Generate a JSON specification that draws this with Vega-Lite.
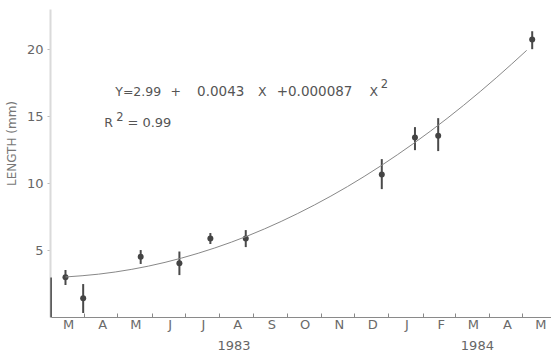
{
  "$schema": "https://vega.github.io/schema/vega-lite/v6.json",
  "width": 501,
  "height": 308,
  "autosize": "none",
  "padding": {"left": 50, "top": 9, "right": 0, "bottom": 41},
  "background": "white",
  "config": {"view": {"stroke": null}, "font": "DejaVu Sans"},
  "datasets": {
    "samples": [
      {"date": "1983-03-15", "length": 2.96, "lo": 2.39, "hi": 3.51},
      {"date": "1983-03-31", "length": 1.4, "lo": 0.3, "hi": 2.46},
      {"date": "1983-05-22", "length": 4.5, "lo": 3.96, "hi": 5.0},
      {"date": "1983-06-26", "length": 4.01, "lo": 3.13, "hi": 4.89},
      {"date": "1983-07-24", "length": 5.87, "lo": 5.45, "hi": 6.27},
      {"date": "1983-08-25", "length": 5.87, "lo": 5.22, "hi": 6.49},
      {"date": "1983-12-26", "length": 10.65, "lo": 9.55, "hi": 11.79},
      {"date": "1984-01-25", "length": 13.41, "lo": 12.46, "hi": 14.18},
      {"date": "1984-02-15", "length": 13.53, "lo": 12.39, "hi": 14.85},
      {"date": "1984-05-10", "length": 20.72, "lo": 20.0, "hi": 21.34}
    ],
    "fit": [
      {"date": "1983-03-15", "length": 2.99},
      {"date": "1983-04-14", "length": 3.2},
      {"date": "1983-05-14", "length": 3.56},
      {"date": "1983-06-13", "length": 4.08},
      {"date": "1983-07-13", "length": 4.76},
      {"date": "1983-08-12", "length": 5.59},
      {"date": "1983-09-11", "length": 6.58},
      {"date": "1983-10-11", "length": 7.73},
      {"date": "1983-11-10", "length": 9.03},
      {"date": "1983-12-10", "length": 10.49},
      {"date": "1984-01-09", "length": 12.11},
      {"date": "1984-02-08", "length": 13.88},
      {"date": "1984-03-09", "length": 15.81},
      {"date": "1984-04-08", "length": 17.9},
      {"date": "1984-05-05", "length": 19.91}
    ]
  },
  "resolve": {"axis": {"x": "independent"}},
  "layer": [
    {
      "data": {"name": "samples"},
      "mark": {"type": "rule", "color": "#4a4a4a", "strokeWidth": 2},
      "encoding": {
        "x": {
          "field": "date", "type": "temporal",
          "scale": {"type": "utc", "nice": false, "domain": [{"year": 1983, "month": 3, "date": 1, "utc": true}, {"year": 1984, "month": 5, "date": 27, "utc": true}]},
          "axis": {
            "orient": "bottom",
            "values": [
              {"year": 1983, "month": 3, "date": 1, "utc": true},
              {"year": 1983, "month": 4, "date": 1, "utc": true},
              {"year": 1983, "month": 5, "date": 1, "utc": true},
              {"year": 1983, "month": 6, "date": 1, "utc": true},
              {"year": 1983, "month": 7, "date": 1, "utc": true},
              {"year": 1983, "month": 8, "date": 1, "utc": true},
              {"year": 1983, "month": 9, "date": 1, "utc": true},
              {"year": 1983, "month": 10, "date": 1, "utc": true},
              {"year": 1983, "month": 11, "date": 1, "utc": true},
              {"year": 1983, "month": 12, "date": 1, "utc": true},
              {"year": 1984, "month": 1, "date": 1, "utc": true},
              {"year": 1984, "month": 2, "date": 1, "utc": true},
              {"year": 1984, "month": 3, "date": 1, "utc": true},
              {"year": 1984, "month": 4, "date": 1, "utc": true},
              {"year": 1984, "month": 5, "date": 1, "utc": true}
            ],
            "labelExpr": "slice(utcFormat(datum.value, '%b'), 0, 1)",
            "labelOffset": 18,
            "labelOverlap": false,
            "labelBound": false,
            "labelFlush": false,
            "labelAlign": "center",
            "labelBaseline": "top",
            "labelPadding": 5,
            "labelFontSize": 13,
            "labelColor": "#6a6a6a",
            "tickSize": -4,
            "tickColor": "#888",
            "domainColor": "#8a8a8a",
            "grid": false,
            "title": null
          }
        },
        "y": {
          "field": "lo", "type": "quantitative",
          "scale": {"domain": [0, 23], "nice": false},
          "title": "LENGTH (mm)",
          "axis": {
            "orient": "left",
            "values": [5, 10, 15, 20],
            "title": "LENGTH (mm)",
            "titleFontSize": 12,
            "titleFontWeight": "normal",
            "titleColor": "#777",
            "titleX": -39,
            "titleY": 134,
            "titleAngle": 270,
            "titleAlign": "center",
            "titleBaseline": "middle",
            "domainColor": "#dadada",
            "domainWidth": 2,
            "tickColor": "#bbb",
            "tickSize": 3,
            "labelColor": "#666",
            "labelFontSize": 13,
            "labelPadding": 4,
            "grid": false
          }
        },
        "y2": {"field": "hi"}
      }
    },
    {
      "data": {"name": "samples"},
      "mark": {"type": "point", "filled": true, "size": 36, "color": "#444", "opacity": 1},
      "encoding": {
        "x": {"field": "date", "type": "temporal", "axis": null},
        "y": {"field": "length", "type": "quantitative", "title": "LENGTH (mm)"}
      }
    },
    {
      "data": {"name": "fit"},
      "mark": {"type": "line", "color": "#888", "strokeWidth": 1, "interpolate": "monotone"},
      "encoding": {
        "x": {
          "field": "date", "type": "temporal",
          "axis": {
            "orient": "bottom",
            "values": [
              {"year": 1983, "month": 8, "date": 14, "utc": true},
              {"year": 1984, "month": 3, "date": 21, "utc": true}
            ],
            "labelExpr": "utcFormat(datum.value, '%Y')",
            "offset": 20,
            "domain": false,
            "ticks": false,
            "grid": false,
            "labelPadding": 2,
            "labelAlign": "center",
            "labelBaseline": "top",
            "labelFontSize": 13,
            "labelColor": "#666",
            "labelOverlap": false,
            "labelBound": false,
            "labelFlush": false,
            "title": null
          }
        },
        "y": {"field": "length", "type": "quantitative", "title": "LENGTH (mm)"}
      }
    },
    {
      "data": {"values": [{}]},
      "mark": {"type": "rule", "color": "#444", "strokeWidth": 1.5},
      "encoding": {
        "x": {"datum": {"year": 1983, "month": 3, "date": 2, "utc": true}, "type": "temporal", "axis": null},
        "y": {"datum": 0, "type": "quantitative"},
        "y2": {"datum": 2.95}
      }
    },
    {
      "data": {"values": [{}]},
      "mark": {"type": "text", "text": "Y=2.99", "align": "left", "baseline": "alphabetic", "fontSize": 12.5, "color": "#555"},
      "encoding": {
        "x": {"datum": {"year": 1983, "month": 4, "date": 29, "utc": true}, "type": "temporal", "axis": null},
        "y": {"datum": 16.47, "type": "quantitative"}
      }
    },
    {
      "data": {"values": [{}]},
      "mark": {"type": "text", "text": "+", "align": "left", "baseline": "alphabetic", "fontSize": 12.5, "color": "#555"},
      "encoding": {
        "x": {"datum": {"year": 1983, "month": 6, "date": 18, "utc": true}, "type": "temporal", "axis": null},
        "y": {"datum": 16.47, "type": "quantitative"}
      }
    },
    {
      "data": {"values": [{}]},
      "mark": {"type": "text", "text": "0.0043", "align": "left", "baseline": "alphabetic", "fontSize": 13.5, "color": "#555"},
      "encoding": {
        "x": {"datum": {"year": 1983, "month": 7, "date": 12, "utc": true}, "type": "temporal", "axis": null},
        "y": {"datum": 16.47, "type": "quantitative"}
      }
    },
    {
      "data": {"values": [{}]},
      "mark": {"type": "text", "text": "X", "align": "left", "baseline": "alphabetic", "fontSize": 12.5, "color": "#555"},
      "encoding": {
        "x": {"datum": {"year": 1983, "month": 9, "date": 5, "utc": true}, "type": "temporal", "axis": null},
        "y": {"datum": 16.47, "type": "quantitative"}
      }
    },
    {
      "data": {"values": [{}]},
      "mark": {"type": "text", "text": "+0.000087", "align": "left", "baseline": "alphabetic", "fontSize": 13.5, "color": "#555"},
      "encoding": {
        "x": {"datum": {"year": 1983, "month": 9, "date": 22, "utc": true}, "type": "temporal", "axis": null},
        "y": {"datum": 16.47, "type": "quantitative"}
      }
    },
    {
      "data": {"values": [{}]},
      "mark": {"type": "text", "text": "X", "align": "left", "baseline": "alphabetic", "fontSize": 12.5, "color": "#555"},
      "encoding": {
        "x": {"datum": {"year": 1983, "month": 12, "date": 15, "utc": true}, "type": "temporal", "axis": null},
        "y": {"datum": 16.47, "type": "quantitative"}
      }
    },
    {
      "data": {"values": [{}]},
      "mark": {"type": "text", "text": "2", "align": "left", "baseline": "alphabetic", "fontSize": 11.5, "color": "#555"},
      "encoding": {
        "x": {"datum": {"year": 1983, "month": 12, "date": 25, "utc": true}, "type": "temporal", "axis": null},
        "y": {"datum": 17.1, "type": "quantitative"}
      }
    },
    {
      "data": {"values": [{}]},
      "mark": {"type": "text", "text": "R", "align": "left", "baseline": "alphabetic", "fontSize": 12.5, "color": "#555"},
      "encoding": {
        "x": {"datum": {"year": 1983, "month": 4, "date": 19, "utc": true}, "type": "temporal", "axis": null},
        "y": {"datum": 14.17, "type": "quantitative"}
      }
    },
    {
      "data": {"values": [{}]},
      "mark": {"type": "text", "text": "2", "align": "left", "baseline": "alphabetic", "fontSize": 11.5, "color": "#555"},
      "encoding": {
        "x": {"datum": {"year": 1983, "month": 4, "date": 30, "utc": true}, "type": "temporal", "axis": null},
        "y": {"datum": 14.6, "type": "quantitative"}
      }
    },
    {
      "data": {"values": [{}]},
      "mark": {"type": "text", "text": "=  0.99", "align": "left", "baseline": "alphabetic", "fontSize": 13, "color": "#555"},
      "encoding": {
        "x": {"datum": {"year": 1983, "month": 5, "date": 10, "utc": true}, "type": "temporal", "axis": null},
        "y": {"datum": 14.17, "type": "quantitative"}
      }
    }
  ]
}
